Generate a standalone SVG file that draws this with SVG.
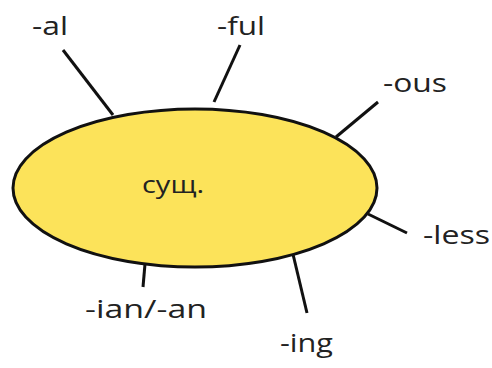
<svg xmlns="http://www.w3.org/2000/svg" width="492" height="368" viewBox="0 0 492 368">
<style>
.lbl{font-family:"Open Sans","Liberation Sans",sans-serif;font-size:26px;fill:#222}
.ln{stroke:#111;stroke-width:3;stroke-linecap:butt;fill:none}
</style>
<rect width="492" height="368" fill="#fff"/>
<g id="connectors">
<line class="ln" x1="63" y1="50" x2="113" y2="115"/>
<line class="ln" x1="240" y1="45" x2="214" y2="102"/>
<line class="ln" x1="378" y1="102" x2="336" y2="137"/>
<line class="ln" x1="368" y1="214" x2="407" y2="233"/>
<line class="ln" x1="292" y1="250" x2="307" y2="313"/>
<line class="ln" x1="145" y1="264" x2="143" y2="287"/>
</g>
<g id="center">
<ellipse cx="195" cy="188" rx="182" ry="79" fill="#FCE35A" stroke="#111" stroke-width="3"/>
<text class="lbl" x="142" y="193" textLength="62" lengthAdjust="spacingAndGlyphs" style="font-size:23px">сущ.</text>
</g>
<g id="al"><text class="lbl" x="32" y="35" textLength="36" lengthAdjust="spacingAndGlyphs">-al</text></g>
<g id="ful"><text class="lbl" x="217" y="35" textLength="48" lengthAdjust="spacingAndGlyphs">-ful</text></g>
<g id="ous"><text class="lbl" x="383" y="92" textLength="64" lengthAdjust="spacingAndGlyphs">-ous</text></g>
<g id="less"><text class="lbl" x="423" y="244" textLength="67" lengthAdjust="spacingAndGlyphs">-less</text></g>
<g id="ing"><text class="lbl" x="280" y="352" textLength="53" lengthAdjust="spacingAndGlyphs">-ing</text></g>
<g id="ian"><text class="lbl" x="85" y="318" textLength="122" lengthAdjust="spacingAndGlyphs">-ian/-an</text></g>
</svg>
